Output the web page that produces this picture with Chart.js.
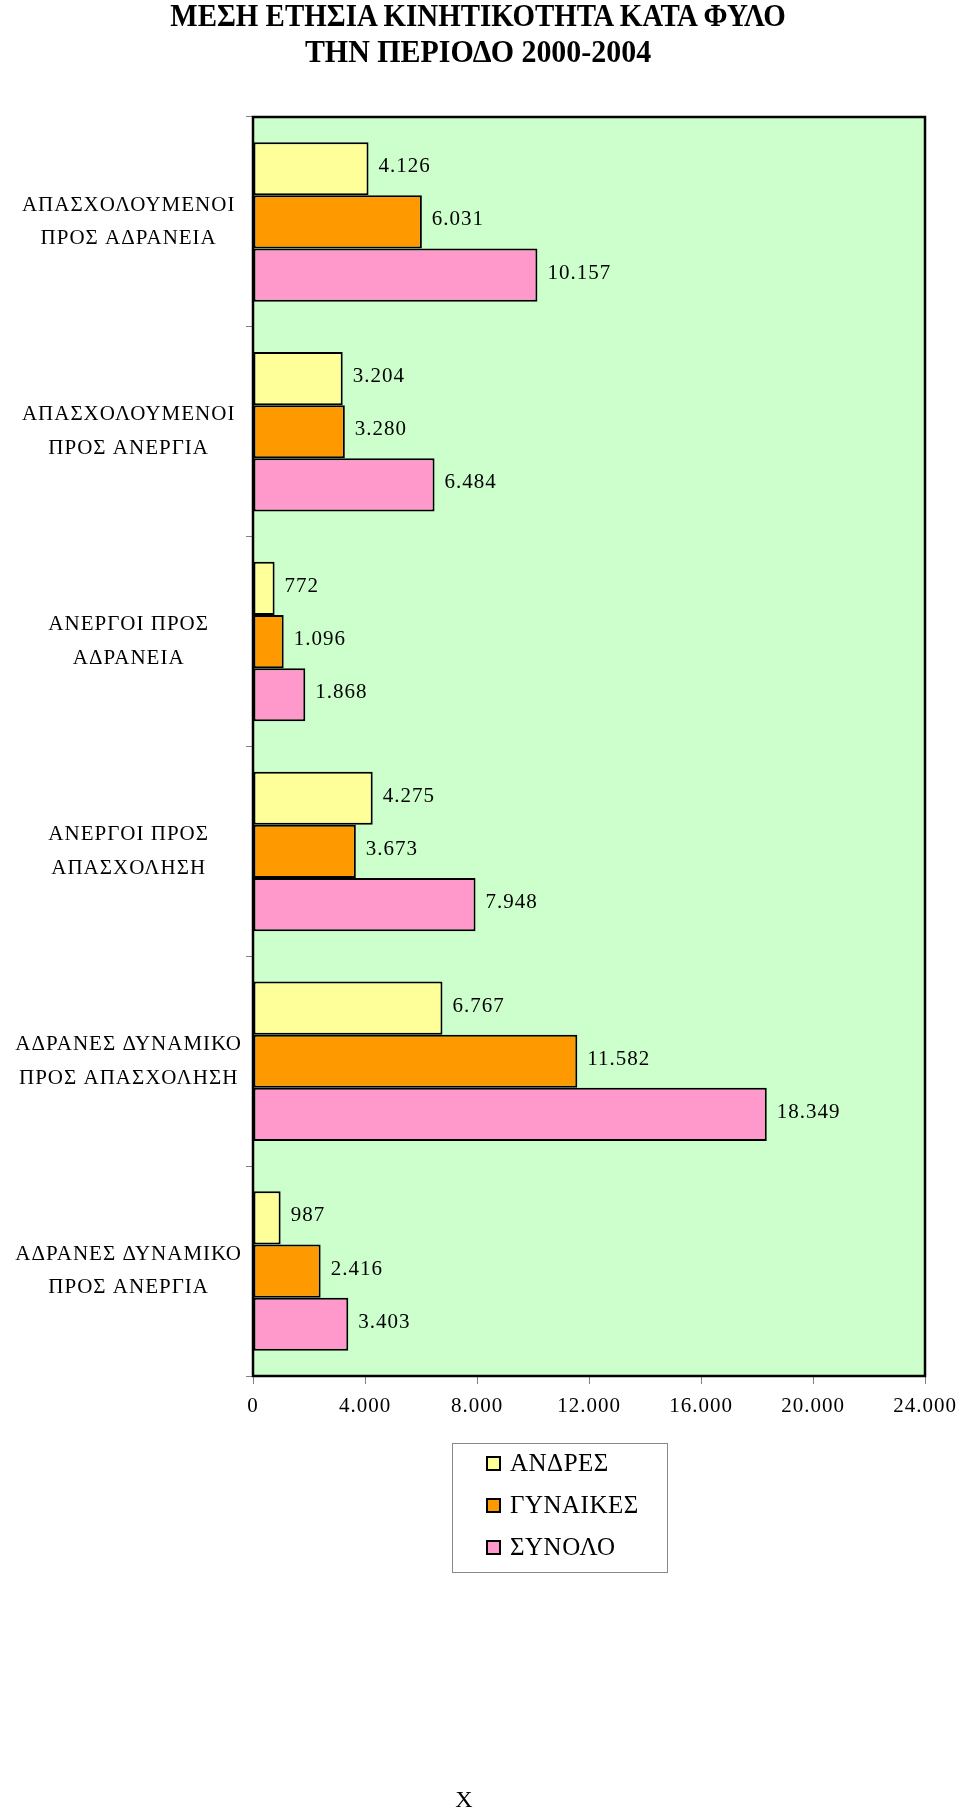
<!DOCTYPE html>
<html>
<head>
<meta charset="utf-8">
<script src="https://cdn.jsdelivr.net/npm/chart.js@4.4.1/dist/chart.umd.min.js"></script>
<style>
  body { margin: 0; background: #fff; }
  #page { position: relative; width: 960px; height: 1811px; overflow: hidden; font-family: "Liberation Serif", "Times New Roman", serif; }
  #chart { position: absolute; left: 0; top: 0; }
  .ttl { position: absolute; left: 478px; white-space: nowrap; font-weight: bold; font-size: 32px; line-height: 32px; transform-origin: 50% 50%; }
  #legend { position: absolute; left: 452px; top: 1443px; width: 214px; height: 128px; border: 1px solid #8a8a8a; }
  .row { position: absolute; left: 33px; height: 30px; display: flex; align-items: center; font-size: 25px; letter-spacing: 0.5px; }
  .box { width: 11px; height: 11px; border: 2px solid #000; margin-right: 9px; }
  #foot { position: absolute; left: 464px; top: 1787px; font-size: 24px; line-height: 24px; transform: translateX(-50%); }
</style>
</head>
<body>
<div id="page">
  <canvas id="chart" width="960" height="1811"></canvas>
  <div class="ttl" id="t1" style="top:-1px">ΜΕΣΗ ΕΤΗΣΙΑ ΚΙΝΗΤΙΚΟΤΗΤΑ ΚΑΤΑ ΦΥΛΟ</div>
  <div class="ttl" id="t2" style="top:35px">ΤΗΝ ΠΕΡΙΟΔΟ 2000-2004</div>
  <div id="legend"></div>
  <div id="foot">X</div>
</div>
<script>
// categories (two-line labels)
const categories = [
  ['ΑΠΑΣΧΟΛΟΥΜΕΝΟΙ', 'ΠΡΟΣ ΑΔΡΑΝΕΙΑ'],
  ['ΑΠΑΣΧΟΛΟΥΜΕΝΟΙ', 'ΠΡΟΣ ΑΝΕΡΓΙΑ'],
  ['ΑΝΕΡΓΟΙ ΠΡΟΣ', 'ΑΔΡΑΝΕΙΑ'],
  ['ΑΝΕΡΓΟΙ ΠΡΟΣ', 'ΑΠΑΣΧΟΛΗΣΗ'],
  ['ΑΔΡΑΝΕΣ ΔΥΝΑΜΙΚΟ', 'ΠΡΟΣ ΑΠΑΣΧΟΛΗΣΗ'],
  ['ΑΔΡΑΝΕΣ ΔΥΝΑΜΙΚΟ', 'ΠΡΟΣ ΑΝΕΡΓΙΑ']
];
const seriesNames = ['ΑΝΔΡΕΣ', 'ΓΥΝΑΙΚΕΣ', 'ΣΥΝΟΛΟ'];
const men   = [4126, 3204, 772, 4275, 6767, 987];
const women = [6031, 3280, 1096, 3673, 11582, 2416];
const total = [10157, 6484, 1868, 7948, 18349, 3403];
const xTicks = [0, 4000, 8000, 12000, 16000, 20000, 24000];

const colors = ['#FFFF99', '#FF9900', '#FF99CC'];
const serif = '"Liberation Serif", "Times New Roman", serif';

function fmt(n) {
  return String(n).replace(/\B(?=(\d{3})+(?!\d))/g, '.');
}

// title squeeze to the narrow look of the original
[['t1', 615], ['t2', 346]].forEach(([id, w]) => {
  const el = document.getElementById(id);
  const k = w / el.offsetWidth;
  el.style.transform = 'translateX(-50%) scaleX(' + k + ')';
});

// legend
const legend = document.getElementById('legend');
seriesNames.forEach((name, i) => {
  const r = document.createElement('div');
  r.className = 'row';
  r.style.top = (4 + i * 42) + 'px';
  r.innerHTML = '<div class="box" style="background:' + colors[i] + '"></div><span>' + name + '</span>';
  legend.appendChild(r);
});

const frame = {
  id: 'frame',
  beforeLayout(chart) { chart.ctx.letterSpacing = '1px'; },
  beforeDraw(chart) {
    const { ctx, chartArea: a } = chart;
    ctx.letterSpacing = '1px';
    ctx.save();
    ctx.fillStyle = '#CCFFCC';
    ctx.fillRect(a.left, a.top, a.right - a.left, a.bottom - a.top);
    ctx.restore();
  },
  afterDatasetsDraw(chart) {
    const { ctx, chartArea: a } = chart;
    ctx.save();
    ctx.strokeStyle = '#000';
    ctx.lineWidth = 2.5;
    ctx.strokeRect(a.left, a.top, a.right - a.left, a.bottom - a.top);
    // value labels
    ctx.font = '21px ' + serif;
    ctx.fillStyle = '#000';
    ctx.textAlign = 'left';
    ctx.textBaseline = 'middle';
    chart.data.datasets.forEach((ds, di) => {
      chart.getDatasetMeta(di).data.forEach((bar, i) => {
        ctx.fillText(fmt(ds.data[i]), bar.x + 10, bar.y - 2);
      });
    });
    ctx.restore();
  }
};

const datasets = [men, women, total].map((d, i) => ({
  label: seriesNames[i],
  data: d,
  backgroundColor: colors[i],
  borderColor: '#000',
  borderWidth: 2,
  borderSkipped: false,
  categoryPercentage: 0.76,
  barPercentage: 1.0
}));

new Chart(document.getElementById('chart'), {
  type: 'bar',
  data: { labels: categories, datasets },
  options: {
    indexAxis: 'y',
    responsive: false,
    animation: false,
    events: [],
    layout: { padding: { top: 117, right: 35, bottom: 375, left: 0 } },
    plugins: { legend: { display: false }, tooltip: { enabled: false } },
    scales: {
      x: {
        min: 0,
        max: 24000,
        afterFit(s) { s.height = 60; s.paddingLeft = 0; s.paddingRight = 0; },
        afterBuildTicks(s) { s.ticks = xTicks.map(v => ({ value: v })); },
        border: { display: false },
        grid: { drawOnChartArea: false, drawTicks: true, tickLength: 8, color: '#808080' },
        ticks: { padding: 10, color: '#000', font: { family: serif, size: 21 }, maxRotation: 0, callback: v => fmt(v) }
      },
      y: {
        afterFit(s) { s.width = 253; },
        border: { display: false },
        grid: { drawOnChartArea: false, drawTicks: true, tickLength: 7, color: '#808080' },
        ticks: { padding: 4, crossAlign: 'center', color: '#000', font: { family: serif, size: 21, lineHeight: 1.6 } }
      }
    }
  },
  plugins: [frame]
});
</script>
</body>
</html>
